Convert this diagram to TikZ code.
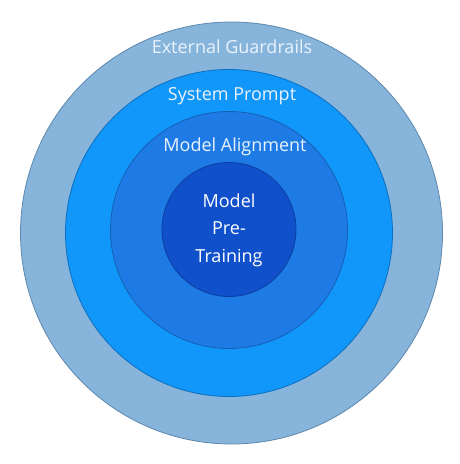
\documentclass[tikz,border=0pt]{standalone}
\usepackage{fontspec}
\setmainfont{Open Sans}
\definecolor{ringA}{HTML}{86B4DA}
\definecolor{ringAb}{HTML}{5F88AE}
\definecolor{ringB}{HTML}{1196F9}
\definecolor{ringBb}{HTML}{0E6FC0}
\definecolor{ringC}{HTML}{1E7BE5}
\definecolor{ringCb}{HTML}{175FB5}
\definecolor{ringD}{HTML}{1050CB}
\definecolor{ringDb}{HTML}{0D3E9E}
\definecolor{paletxt}{HTML}{EAF3FB}
\tikzset{
  ring/.style={circle, inner sep=0pt, line width=0.8pt},
  lbl/.style={font=\fontsize{18}{27.5}\selectfont, align=center, inner sep=0pt}
}
\begin{document}
\begin{tikzpicture}[x=1pt,y=-1pt]
\useasboundingbox (0,0) rectangle (460,464);
\fill[white] (0,0) rectangle (460,464);
\node[ring, minimum size=422pt, fill=ringA, draw=ringAb] (outer) at (231.5,233) {};
\node[ring, minimum size=327pt, fill=ringB, draw=ringBb] (sys) at (229,233) {};
\node[ring, minimum size=237pt, fill=ringC, draw=ringCb] (align) at (229,230) {};
\node[ring, minimum size=134pt, fill=ringD, draw=ringDb] (pre) at (229,229.5) {};
\node[lbl, text=paletxt] (tguard) at (232,47) {External Guardrails};
\node[lbl, text=paletxt] (tsys) at (232,96) {System Prompt};
\node[lbl, text=paletxt] (talign) at (235,147) {Model Alignment};
\node[lbl, text=white] (tpre) at (229,230) {Model\\Pre-\\Training};
\end{tikzpicture}
\end{document}
